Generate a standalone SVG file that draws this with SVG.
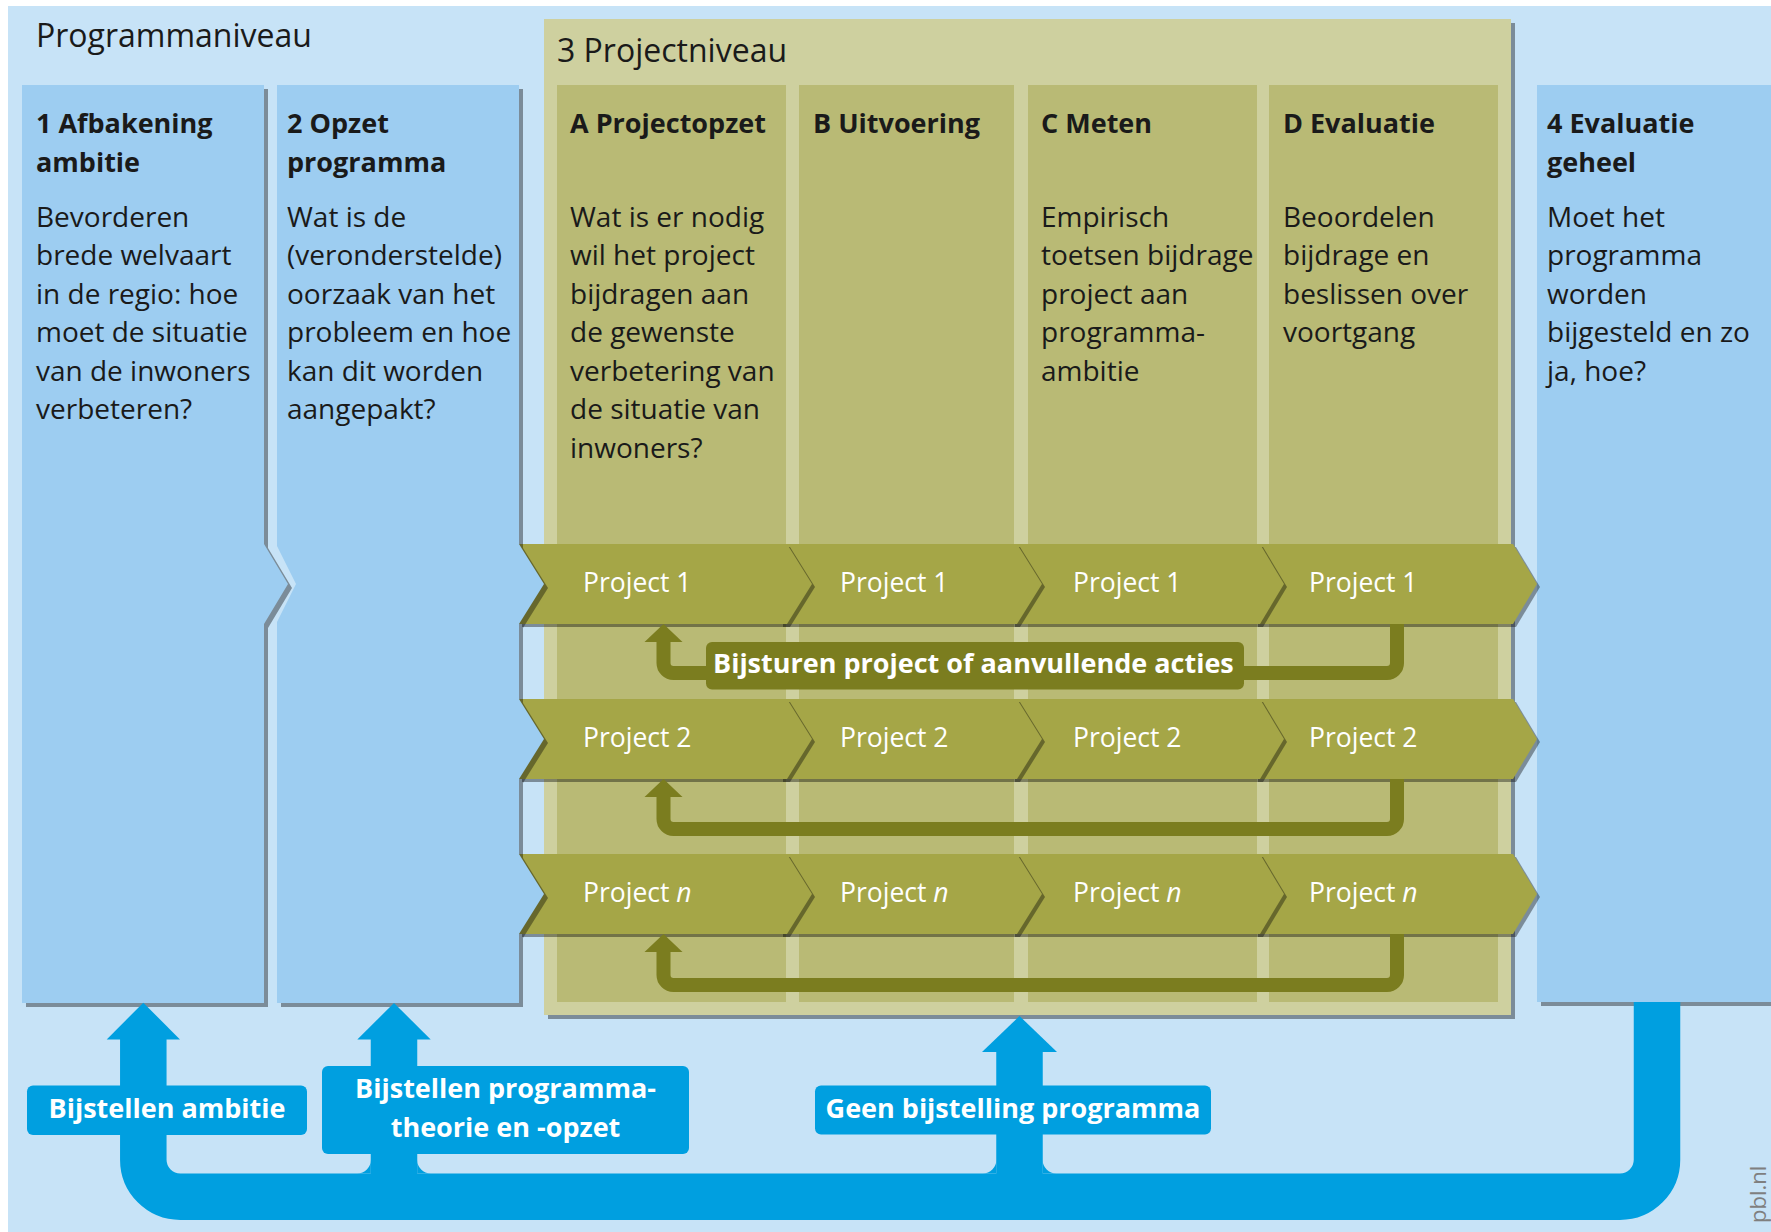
<svg xmlns="http://www.w3.org/2000/svg" width="1771" height="1232" viewBox="0 0 1771 1232">
<defs>
<style>
.bg{fill:#C7E3F7}
.col{fill:#9DCDF1}
.sh{fill:#000;fill-opacity:.38}
.cont{fill:#CED09F}
.sub{fill:#B9BA75}
.band{fill:#A5A647}
.t{font-family:"Open Sans","Noto Sans",sans-serif;font-size:28px;fill:#1a1a1a}
.h{font-weight:700;font-size:27px}
.title{font-size:32px}
.pt{font-family:"Open Sans","Noto Sans",sans-serif;font-size:26.5px;fill:#fff}
.lbl{font-family:"Open Sans","Noto Sans",sans-serif;font-weight:700;font-size:27px;fill:#fff}
.fb{fill:none;stroke:#7B7D1F;stroke-width:14}
.fbh{fill:#7B7D1F}
.bl{fill:none;stroke:#009FE0;stroke-width:46.5}
.blf{fill:#009FE0}
</style>
</defs>
<rect x="0" y="0" width="1771" height="1232" fill="#fff"/>
<rect class="bg" x="8" y="6" width="1763" height="1226"/>
<text class="t title" x="36" y="47">Programmaniveau</text>

<g id="projectniveau">
<rect class="sh" x="548" y="23" width="967" height="996"/>
<rect class="cont" x="544" y="19" width="967" height="996"/>
<text class="t title" x="557" y="62">3 Projectniveau</text>
</g>

<g id="col-A">
<rect class="sub" x="557" y="85" width="229" height="917"/>
<text class="t h" x="570" y="133">A Projectopzet</text>
<text class="t" x="570" y="226.5">Wat is er nodig</text>
<text class="t" x="570" y="265">wil het project</text>
<text class="t" x="570" y="303.5">bijdragen aan</text>
<text class="t" x="570" y="342">de gewenste</text>
<text class="t" x="570" y="380.5">verbetering van</text>
<text class="t" x="570" y="419">de situatie van</text>
<text class="t" x="570" y="457.5">inwoners?</text>
</g>
<g id="col-B">
<rect class="sub" x="799" y="85" width="215" height="917"/>
<text class="t h" x="813" y="133">B Uitvoering</text>
</g>
<g id="col-C">
<rect class="sub" x="1028" y="85" width="229" height="917"/>
<text class="t h" x="1041" y="133">C Meten</text>
<text class="t" x="1041" y="226.5">Empirisch</text>
<text class="t" x="1041" y="265">toetsen bijdrage</text>
<text class="t" x="1041" y="303.5">project aan</text>
<text class="t" x="1041" y="342">programma-</text>
<text class="t" x="1041" y="380.5">ambitie</text>
</g>
<g id="col-D">
<rect class="sub" x="1269" y="85" width="229" height="917"/>
<text class="t h" x="1283" y="133">D Evaluatie</text>
<text class="t" x="1283" y="226.5">Beoordelen</text>
<text class="t" x="1283" y="265">bijdrage en</text>
<text class="t" x="1283" y="303.5">beslissen over</text>
<text class="t" x="1283" y="342">voortgang</text>
</g>

<g id="col-4">
<rect class="sh" x="1541" y="89" width="240" height="917"/>
<rect class="col" x="1537" y="85" width="240" height="917"/>
<text class="t h" x="1547" y="133">4 Evaluatie</text>
<text class="t h" x="1547" y="171.5">geheel</text>
<text class="t" x="1547" y="226.5">Moet het</text>
<text class="t" x="1547" y="265">programma</text>
<text class="t" x="1547" y="303.5">worden</text>
<text class="t" x="1547" y="342">bijgesteld en zo</text>
<text class="t" x="1547" y="380.5">ja, hoe?</text>
</g>

<g id="project-1">
<polygon class="sh" points="1258,547 1516,547 1540,587 1516,627 1258,627"/>
<polygon class="band" points="1255,544 1513,544 1537,584 1513,624 1255,624"/>
<polygon class="sh" points="1015,547 1263,547 1287,587 1263,627 1015,627"/>
<polygon class="band" points="1012,544 1260,544 1284,584 1260,624 1012,624"/>
<polygon class="sh" points="783,547 1020,547 1045,587 1020,627 783,627"/>
<polygon class="band" points="780,544 1017,544 1042,584 1017,624 780,624"/>
<polygon class="sh" points="522,547 790,547 815,587 790,627 522,627"/>
<polygon class="band" points="519,544 787,544 812,584 787,624 519,624"/>
<text class="pt" x="583" y="592">Project 1</text>
<text class="pt" x="840" y="592">Project 1</text>
<text class="pt" x="1073" y="592">Project 1</text>
<text class="pt" x="1309" y="592">Project 1</text>
</g>
<g id="project-2">
<polygon class="sh" points="1258,702 1516,702 1540,742 1516,782 1258,782"/>
<polygon class="band" points="1255,699 1513,699 1537,739 1513,779 1255,779"/>
<polygon class="sh" points="1015,702 1263,702 1287,742 1263,782 1015,782"/>
<polygon class="band" points="1012,699 1260,699 1284,739 1260,779 1012,779"/>
<polygon class="sh" points="783,702 1020,702 1045,742 1020,782 783,782"/>
<polygon class="band" points="780,699 1017,699 1042,739 1017,779 780,779"/>
<polygon class="sh" points="522,702 790,702 815,742 790,782 522,782"/>
<polygon class="band" points="519,699 787,699 812,739 787,779 519,779"/>
<text class="pt" x="583" y="747">Project 2</text>
<text class="pt" x="840" y="747">Project 2</text>
<text class="pt" x="1073" y="747">Project 2</text>
<text class="pt" x="1309" y="747">Project 2</text>
</g>
<g id="project-n">
<polygon class="sh" points="1258,857 1516,857 1540,897 1516,937 1258,937"/>
<polygon class="band" points="1255,854 1513,854 1537,894 1513,934 1255,934"/>
<polygon class="sh" points="1015,857 1263,857 1287,897 1263,937 1015,937"/>
<polygon class="band" points="1012,854 1260,854 1284,894 1260,934 1012,934"/>
<polygon class="sh" points="783,857 1020,857 1045,897 1020,937 783,937"/>
<polygon class="band" points="780,854 1017,854 1042,894 1017,934 780,934"/>
<polygon class="sh" points="522,857 790,857 815,897 790,937 522,937"/>
<polygon class="band" points="519,854 787,854 812,894 787,934 519,934"/>
<text class="pt" x="583" y="902">Project <tspan font-style="italic">n</tspan></text>
<text class="pt" x="840" y="902">Project <tspan font-style="italic">n</tspan></text>
<text class="pt" x="1073" y="902">Project <tspan font-style="italic">n</tspan></text>
<text class="pt" x="1309" y="902">Project <tspan font-style="italic">n</tspan></text>
</g>

<g id="col-1">
<polygon class="sh" points="26,89 268,89 268,548 292,588 268,628 268,1007 26,1007"/>
<polygon class="col" points="22,85 264,85 264,544 288,584 264,624 264,1003 22,1003"/>
<text class="t h" x="36" y="133">1 Afbakening</text>
<text class="t h" x="36" y="171.5">ambitie</text>
<text class="t" x="36" y="226.5">Bevorderen</text>
<text class="t" x="36" y="265">brede welvaart</text>
<text class="t" x="36" y="303.5">in de regio: hoe</text>
<text class="t" x="36" y="342">moet de situatie</text>
<text class="t" x="36" y="380.5">van de inwoners</text>
<text class="t" x="36" y="419">verbeteren?</text>
</g>

<g id="col-2">
<polygon class="sh" points="281,89 523,89 523,548 548,588 523,628 523,703 548,743 523,783 523,858 548,898 523,938 523,1007 281,1007 281,626 300,588 281,550"/>
<polygon class="col" points="277,85 519,85 519,544 544,584 519,624 519,699 544,739 519,779 519,854 544,894 519,934 519,1003 277,1003 277,622 296,584 277,546"/>
<text class="t h" x="287" y="133">2 Opzet</text>
<text class="t h" x="287" y="171.5">programma</text>
<text class="t" x="287" y="226.5">Wat is de</text>
<text class="t" x="287" y="265">(veronderstelde)</text>
<text class="t" x="287" y="303.5">oorzaak van het</text>
<text class="t" x="287" y="342">probleem en hoe</text>
<text class="t" x="287" y="380.5">kan dit worden</text>
<text class="t" x="287" y="419">aangepakt?</text>
</g>

<g id="connectors">
<path class="fb" d="M1397 624 V663 A10 10 0 0 1 1387 673 H673.5 A10 10 0 0 1 663.5 663 V640"/>
<polygon class="fbh" points="663.5,624 644.5,642 682.5,642"/>
<path class="fb" d="M1397 779 V819 A10 10 0 0 1 1387 829 H673.5 A10 10 0 0 1 663.5 819 V795"/>
<polygon class="fbh" points="663.5,779 644.5,797 682.5,797"/>
<path class="fb" d="M1397 934 V975 A10 10 0 0 1 1387 985 H673.5 A10 10 0 0 1 663.5 975 V950"/>
<polygon class="fbh" points="663.5,934 644.5,952 682.5,952"/>

<path class="bl" d="M1657 1002 V1159.7 A37 37 0 0 1 1620 1196.7 H180.3 A37 37 0 0 1 143.3 1159.7 V1036"/>
<polygon class="blf" points="143.3,1002.7 106.7,1039.5 180,1039.5"/>
<path class="bl" d="M394 1180 V1036"/>
<path class="blf" d="M357.3 1173.5 A13.5 13.5 0 0 0 370.8 1160 L370.8 1173.5 Z"/>
<path class="blf" d="M430.7 1173.5 A13.5 13.5 0 0 1 417.2 1160 L417.2 1173.5 Z"/>
<polygon class="blf" points="394,1003 357.3,1039.5 430.7,1039.5"/>
<path class="bl" d="M1019.5 1180 V1049"/>
<path class="blf" d="M982.8 1173.5 A13.5 13.5 0 0 0 996.3 1160 L996.3 1173.5 Z"/>
<path class="blf" d="M1056.2 1173.5 A13.5 13.5 0 0 1 1042.7 1160 L1042.7 1173.5 Z"/>
<polygon class="blf" points="1019.5,1016 982,1052 1057,1052"/>
</g>

<g id="label-bijsturen">
<rect x="706" y="642" width="538" height="47.5" rx="6" fill="#7B7D1F"/>
<text class="lbl" x="713" y="673">Bijsturen project of aanvullende acties</text>
</g>
<g id="label-ambitie">
<rect class="blf" x="27" y="1085.5" width="280" height="49.5" rx="6"/>
<text class="lbl" x="167" y="1118" text-anchor="middle">Bijstellen ambitie</text>
</g>
<g id="label-programmatheorie">
<rect class="blf" x="322" y="1066" width="367" height="88" rx="6"/>
<text class="lbl" x="505.5" y="1098" text-anchor="middle">Bijstellen programma-</text>
<text class="lbl" x="505.5" y="1137" text-anchor="middle">theorie en -opzet</text>
</g>
<g id="label-geen">
<rect class="blf" x="815" y="1085.5" width="396" height="49" rx="6"/>
<text class="lbl" x="1013" y="1118" text-anchor="middle">Geen bijstelling programma</text>
</g>
<text x="0" y="0" transform="translate(1766,1223) rotate(-90)" font-family="'Open Sans','Noto Sans',sans-serif" font-size="22" fill="#7F7F7F">pbl.nl</text>
</svg>
